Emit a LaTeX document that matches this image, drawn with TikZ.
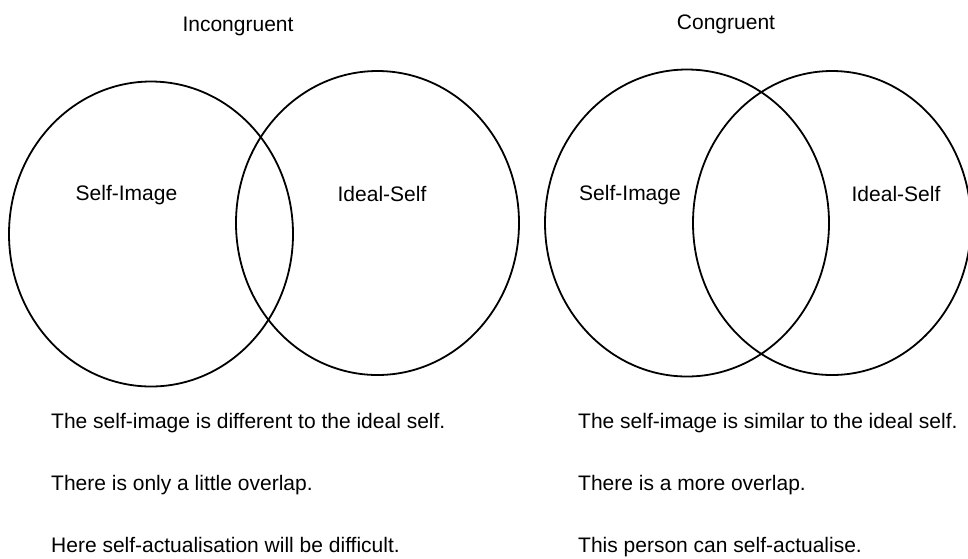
\documentclass[tikz,border=0pt]{standalone}
\usepackage{fontspec}
\setmainfont{Liberation Sans}
\usepackage{tikz}
\usetikzlibrary{shapes.geometric}

\tikzset{
	venn/.style={shape=ellipse,draw=black,line width=1.8pt,inner sep=0pt,outer sep=0pt},
	lbl/.style={anchor=base,inner sep=0pt,font=\fontsize{21}{25}\selectfont},
	note/.style={anchor=base west,inner sep=0pt,font=\fontsize{21}{25}\selectfont}
}

\begin{document}
\begin{tikzpicture}[x=1pt,y=-1pt]
	\useasboundingbox (0,0) rectangle (968,558);
	
	% incongruent
	\node[lbl] (t1) at (238, 31)     {Incongruent};
	\node[venn,minimum width=284pt,minimum height=305pt] (s1) at (151, 234)  {};
	\node[venn,minimum width=283pt,minimum height=304pt] (i1) at (377.5, 223) {};
	\node[lbl] (s1txt) at (126.5, 200)   {Self-Image};
	\node[lbl] (i1txt) at (382, 201)     {Ideal-Self};
	
	% congruent
	\node[lbl] (t2) at (726, 29)     {Congruent};
	\node[venn,minimum width=284pt,minimum height=307pt] (s2) at (687, 223)  {};
	\node[venn,minimum width=278pt,minimum height=304pt] (i2) at (832, 223)  {};
	\node[lbl] (s2txt) at (630, 200)     {Self-Image};
	\node[lbl] (i2txt) at (896, 201)     {Ideal-Self};
	
	% notes
	\node[note] (n1) at (51, 428)   {The self-image is different to the ideal self.};
	\node[note] (n2) at (51, 490)   {There is only a little overlap.};
	\node[note] (n3) at (51, 552)   {Here self-actualisation will be difficult.};
	
	\node[note] (m1) at (578, 428)  {The self-image is similar to the ideal self.};
	\node[note] (m2) at (578, 490)  {There is a more overlap.};
	\node[note] (m3) at (578, 552)  {This person can self-actualise.};

\end{tikzpicture}
\end{document}
